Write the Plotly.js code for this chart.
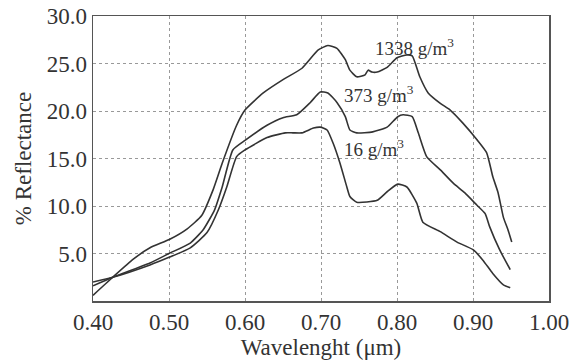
<!DOCTYPE html>
<html>
<head>
<meta charset="utf-8">
<script src="https://cdn.plot.ly/plotly-3.0.1.min.js"></script>
<style>html,body{margin:0;padding:0;background:#fff;}#chart{width:579px;height:360px;}</style>
</head>
<body>
<div id="chart"></div>
<script>
// Series 1338 g/m3
const x1338 = [0.40, 0.426, 0.453, 0.475, 0.501, 0.524, 0.543, 0.558, 0.570, 0.589, 0.600, 0.624, 0.650, 0.675, 0.696, 0.709, 0.721, 0.732, 0.738, 0.747, 0.758, 0.762, 0.767, 0.774, 0.787, 0.800, 0.813, 0.820, 0.830, 0.841, 0.857, 0.870, 0.887, 0.905, 0.918, 0.926, 0.933, 0.940, 0.946, 0.951];
const y1338 = [0.6, 2.5, 4.4, 5.6, 6.5, 7.6, 9.0, 11.7, 14.5, 18.5, 20.1, 21.9, 23.3, 24.5, 26.4, 26.9, 26.6, 25.4, 24.3, 23.6, 23.8, 24.3, 24.1, 24.1, 24.6, 25.6, 25.9, 25.8, 23.6, 21.9, 20.8, 20.1, 18.7, 17.0, 15.6, 13.1, 11.4, 8.8, 7.5, 6.2];
// Series 373 g/m3
const x373 = [0.40, 0.426, 0.475, 0.50, 0.528, 0.545, 0.56, 0.57, 0.584, 0.60, 0.629, 0.65, 0.668, 0.686, 0.699, 0.709, 0.721, 0.732, 0.738, 0.747, 0.768, 0.787, 0.801, 0.808, 0.82, 0.828, 0.839, 0.857, 0.874, 0.889, 0.905, 0.916, 0.922, 0.935, 0.949];
const y373 = [1.6, 2.5, 4.0, 5.0, 6.1, 7.5, 9.6, 12.0, 15.9, 16.9, 18.5, 19.3, 19.6, 20.9, 22.0, 21.9, 20.9, 19.4, 18.0, 17.7, 17.8, 18.3, 19.4, 19.6, 19.4, 17.7, 15.2, 13.8, 12.4, 11.4, 10.1, 9.2, 7.8, 5.4, 3.3];
// Series 16 g/m3
const x16 = [0.40, 0.426, 0.475, 0.50, 0.528, 0.55, 0.565, 0.576, 0.589, 0.60, 0.629, 0.653, 0.663, 0.675, 0.69, 0.699, 0.708, 0.716, 0.725, 0.734, 0.738, 0.747, 0.774, 0.787, 0.801, 0.813, 0.826, 0.834, 0.857, 0.879, 0.90, 0.913, 0.926, 0.94, 0.949];
const y16 = [2.0, 2.5, 3.8, 4.6, 5.6, 7.2, 9.6, 12.0, 15.2, 15.9, 17.2, 17.7, 17.7, 17.7, 18.2, 18.3, 18.0, 16.6, 14.5, 12.0, 11.0, 10.4, 10.6, 11.5, 12.3, 12.0, 10.3, 8.3, 7.3, 6.2, 5.4, 4.3, 2.9, 1.7, 1.4];

const seriesNames = ["1338 g/m<sup>3</sup>", "373 g/m<sup>3</sup>", "16 g/m<sup>3</sup>"];
const labelX = [0.768, 0.728, 0.728];
const labelY = [26.7, 21.8, 16.1];

const xTicks = [0.40, 0.50, 0.60, 0.70, 0.80, 0.90, 1.00];
const yTicks = [5, 10, 15, 20, 25, 30];

const lineStyle = {color: '#333333', width: 1.6, shape: 'spline', smoothing: 0.5};
const traces = [
  {x: x1338, y: y1338, name: seriesNames[0]},
  {x: x373, y: y373, name: seriesNames[1]},
  {x: x16, y: y16, name: seriesNames[2]}
].map(t => Object.assign(t, {type: 'scatter', mode: 'lines', line: lineStyle, hoverinfo: 'skip'}));

const FAM = 'Liberation Serif, Times New Roman, serif';
const f = (s) => ({family: FAM, size: s, color: '#333333'});

const layout = {
  width: 579, height: 360,
  margin: {l: 93, r: 30, t: 16, b: 59},
  paper_bgcolor: '#ffffff', plot_bgcolor: '#ffffff',
  showlegend: false,
  font: f(23),
  xaxis: {
    range: [0.40, 1.00], tickvals: xTicks, tickformat: '.2f',
    showgrid: true, gridcolor: '#999999', griddash: 'dot', gridwidth: 1,
    showline: true, linecolor: '#555555', linewidth: 1.5, mirror: true,
    ticks: '', zeroline: false,
    tickfont: f(23),
    title: {text: 'Wavelenght (μm)', font: f(23), standoff: 4}
  },
  yaxis: {
    range: [0, 30], tickvals: yTicks, tickformat: '.1f',
    showgrid: true, gridcolor: '#999999', griddash: 'dot', gridwidth: 1,
    showline: true, linecolor: '#555555', linewidth: 1.5, mirror: true,
    ticks: '', zeroline: false,
    tickfont: f(23),
    title: {text: '% Reflectance', font: f(23), standoff: 8}
  },
  annotations: seriesNames.map((n, i) => ({
    x: labelX[i], y: labelY[i], xref: 'x', yref: 'y', text: n, showarrow: false,
    xanchor: 'left', yanchor: 'middle', font: f(19)
  }))
};

Plotly.newPlot('chart', traces, layout, {staticPlot: true, displayModeBar: false});
</script>
</body>
</html>
